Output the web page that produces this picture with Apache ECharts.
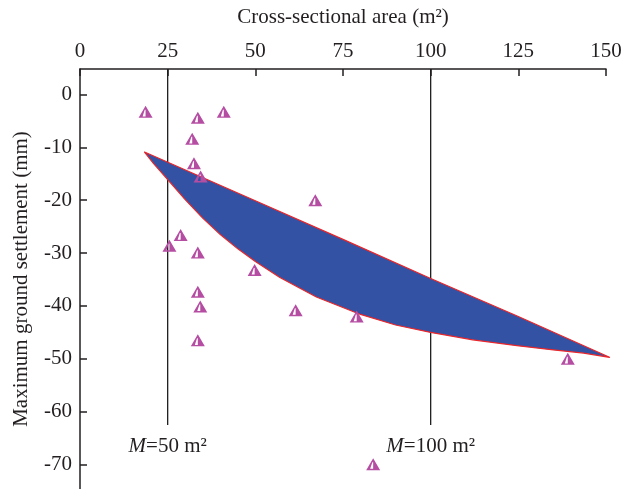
<!DOCTYPE html>
<html>
<head>
<meta charset="utf-8">
<script src="https://cdn.jsdelivr.net/npm/echarts@6/dist/echarts.min.js"></script>
<style>
  html, body { margin: 0; padding: 0; background: #fff; overflow: hidden; }
  #chart { width: 632px; height: 489px; }
</style>
</head>
<body>
<div id="chart"></div>
<script>
// Measured tunnels: cross-sectional area (m²) vs maximum ground settlement (mm)
const caseArea = [18.7, 33.6, 41.0, 32.0, 32.5, 34.4, 28.7, 25.5, 33.6, 49.8,
                  33.6, 34.3, 33.6, 67.1, 61.5, 78.9, 139.1, 83.6];
const caseSettlement = [-3.3, -4.4, -3.3, -8.4, -13.0, -15.5, -26.6, -28.6, -29.9, -33.2,
                        -37.3, -40.1, -46.5, -20.0, -40.8, -42.0, -50.0, -69.9];

// Envelope of the predicted settlement band
const upperArea = [18.4, 50, 75, 100, 125, 151];
const upperSettlement = [-10.9, -20.1, -27.4, -34.8, -42.0, -49.7];
const lowerArea = [18.4, 21, 25, 30, 35, 40, 45, 50, 57, 67.4, 80, 90, 100, 112, 124.6, 135, 143.6, 151];
const lowerSettlement = [-10.9, -13.1, -16.1, -19.9, -23.4, -26.5, -29.2, -31.6, -34.6, -38.3, -41.6, -43.6, -45.0, -46.4, -47.5, -48.3, -48.9, -49.7];

// Reference sections
const refArea = [25, 100];
const refLabel = ['50', '100'];
const refTop = 4.8;
const refBottom = -62.5;
const refLabelY = -66.6;

const xTicks = { min: 0, max: 150, interval: 25 };
const yRange = { min: -74.6, max: 4.8 };
const yTickValues = [0, -10, -20, -30, -40, -50, -60, -70];

const FONT = '"Liberation Serif", "DejaVu Serif", serif';
const TEXT = '#231f20';
const MAGENTA = '#b54ea3';
const FS = 21;

const chart = echarts.init(document.getElementById('chart'), null, { renderer: 'canvas' });

const bandPoints = [];
upperArea.forEach((x, i) => bandPoints.push([x, upperSettlement[i]]));
for (let i = lowerArea.length - 1; i >= 0; i--) bandPoints.push([lowerArea[i], lowerSettlement[i]]);

const refSeries = refArea.map(x => ({
  type: 'line',
  data: [[x, refTop], [x, refBottom]],
  symbol: 'none',
  lineStyle: { color: '#1e1e1e', width: 1.3 },
  silent: true,
  z: 1
}));

chart.setOption({
  animation: false,
  backgroundColor: '#fff',
  grid: { left: 80, right: 26, top: 69, bottom: 0, containLabel: false },
  xAxis: {
    type: 'value', position: 'top',
    min: xTicks.min, max: xTicks.max, interval: xTicks.interval,
    name: 'Cross-sectional area (m²)', nameLocation: 'middle', nameGap: 41,
    nameTextStyle: { fontFamily: FONT, fontSize: FS, color: TEXT },
    axisLine: { onZero: false, lineStyle: { color: '#231f20', width: 1.5 } },
    axisTick: { inside: true, length: 7, lineStyle: { color: '#231f20', width: 1.5 } },
    axisLabel: { fontFamily: FONT, fontSize: FS, color: TEXT, margin: 7 },
    splitLine: { show: false }
  },
  yAxis: {
    type: 'value',
    min: yRange.min, max: yRange.max,
    name: 'Maximum ground settlement (mm)', nameLocation: 'middle', nameGap: 48,
    nameTextStyle: { fontFamily: FONT, fontSize: FS, color: TEXT },
    axisLine: { onZero: false, lineStyle: { color: '#231f20', width: 1.5 } },
    axisTick: { inside: true, length: 7, customValues: yTickValues, lineStyle: { color: '#231f20', width: 1.5 } },
    axisLabel: {
      fontFamily: FONT, fontSize: FS, color: TEXT, margin: 8,
      customValues: yTickValues
    },
    splitLine: { show: false }
  },
  series: [
    ...refSeries,
    {
      type: 'scatter',
      silent: true,
      z: 1,
      symbolSize: 0,
      itemStyle: { color: 'transparent', opacity: 1 },
      data: refArea.map((x, k) => ({ value: [x, refLabelY], name: refLabel[k] })),
      label: {
        show: true, position: 'inside',
        formatter: p => '{i|M}=' + p.name + ' m²',
        fontFamily: FONT, fontSize: FS, color: TEXT, opacity: 1,
        textBorderWidth: 0,
        rich: { i: { fontFamily: FONT, fontSize: FS, fontStyle: 'italic', color: TEXT } }
      }
    },
    {
      type: 'custom',
      clip: false,
      silent: true,
      z: 2,
      data: [0],
      renderItem: (params, api) => ({
        type: 'polygon',
        shape: { points: bandPoints.map(p => api.coord(p)) },
        style: { fill: '#3352a3', stroke: '#e8262b', lineWidth: 1.2, lineJoin: 'round' }
      })
    },
    {
      type: 'scatter',
      z: 3,
      data: caseArea.map((x, i) => [x, caseSettlement[i]]),
      symbol: 'path://M7,0 L14,12 L0,12 Z M6.2,4 L4,10.6 L7,10.6 L7,4 Z',
      symbolSize: [14, 12],
      itemStyle: { color: MAGENTA, opacity: 1 }
    }
  ]
});
</script>
</body>
</html>
